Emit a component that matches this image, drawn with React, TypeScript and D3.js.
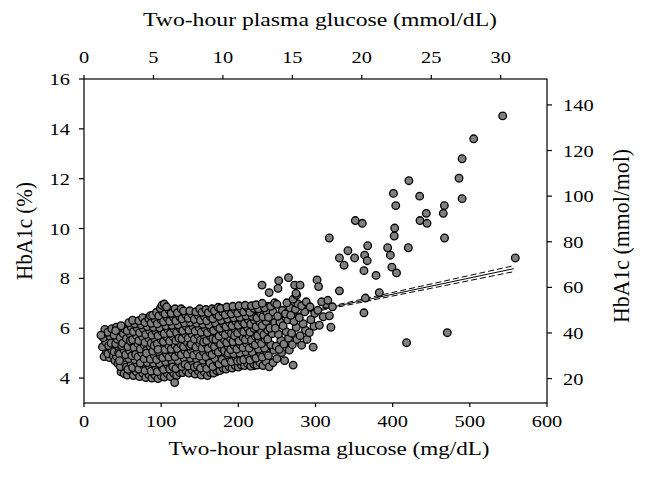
import React from "react";
import * as d3 from "d3";

// ---- axis ticks ----
const xTicks = [0, 100, 200, 300, 400, 500, 600];
const xTopTicks = [0, 5, 10, 15, 20, 25, 30];
const yTicks = [4, 6, 8, 10, 12, 14, 16];
const yRightTicks = [20, 40, 60, 80, 100, 120, 140];

// ---- dense core of the cluster: glucose (mg/dL) columns and HbA1c (%) values ----
const coreGlucose = [
  28, 34, 40, 46, 52, 58, 64, 70, 76, 82, 88, 94, 100, 106, 112, 118, 124, 130, 136, 142,
  148, 154, 160, 166, 172, 178, 184, 190, 196, 202, 208, 214, 220, 226, 232, 238,
];
const coreHbA1c = [
  "4.95 5.20 5.45 5.70 5.90",
  "4.88 5.10 5.35 5.60 5.85",
  "4.80 5.05 5.28 5.52 5.78 5.98",
  "4.60 4.85 5.10 5.34 5.58 5.82 6.02",
  "4.28 4.52 4.76 5.00 5.24 5.48 5.72 5.96",
  "4.20 4.44 4.68 4.92 5.16 5.40 5.64 5.88 6.12",
  "4.18 4.42 4.66 4.90 5.14 5.38 5.62 5.86 6.10 6.26",
  "4.12 4.36 4.60 4.84 5.08 5.32 5.56 5.80 6.04 6.28",
  "4.10 4.34 4.58 4.82 5.06 5.30 5.54 5.78 6.02 6.26",
  "4.08 4.32 4.56 4.80 5.04 5.28 5.52 5.76 6.00 6.24 6.40",
  "4.06 4.30 4.54 4.78 5.02 5.26 5.50 5.74 5.98 6.22 6.46",
  "4.04 4.28 4.52 4.76 5.00 5.24 5.48 5.72 5.96 6.20 6.44 6.60",
  "4.12 4.36 4.60 4.84 5.08 5.32 5.56 5.80 6.04 6.28 6.52 6.76",
  "4.12 4.36 4.60 4.84 5.08 5.32 5.56 5.80 6.04 6.28 6.52 6.76",
  "4.10 4.34 4.58 4.82 5.06 5.30 5.54 5.78 6.02 6.26 6.50 6.70",
  "4.14 4.38 4.62 4.86 5.10 5.34 5.58 5.82 6.06 6.30 6.54 6.70",
  "4.22 4.46 4.70 4.94 5.18 5.42 5.66 5.90 6.14 6.38 6.62",
  "4.26 4.50 4.74 4.98 5.22 5.46 5.70 5.94 6.18 6.42 6.62",
  "4.24 4.48 4.72 4.96 5.20 5.44 5.68 5.92 6.16 6.40 6.60",
  "4.22 4.46 4.70 4.94 5.18 5.42 5.66 5.90 6.14 6.38 6.62",
  "4.20 4.44 4.68 4.92 5.16 5.40 5.64 5.88 6.12 6.36 6.62",
  "4.16 4.40 4.64 4.88 5.12 5.36 5.60 5.84 6.08 6.32 6.60",
  "4.14 4.38 4.62 4.86 5.10 5.34 5.58 5.82 6.06 6.30 6.60",
  "4.24 4.48 4.72 4.96 5.20 5.44 5.68 5.92 6.16 6.40 6.66",
  "4.26 4.50 4.74 4.98 5.22 5.46 5.70 5.94 6.18 6.42 6.68",
  "4.34 4.58 4.82 5.06 5.30 5.54 5.78 6.02 6.26 6.50 6.70",
  "4.40 4.64 4.88 5.12 5.36 5.60 5.84 6.08 6.32 6.56 6.74",
  "4.44 4.68 4.92 5.16 5.40 5.64 5.88 6.12 6.36 6.60 6.78",
  "4.46 4.70 4.94 5.18 5.42 5.66 5.90 6.14 6.38 6.62 6.80",
  "4.50 4.74 4.98 5.22 5.46 5.70 5.94 6.18 6.42 6.66 6.82",
  "4.54 4.78 5.02 5.26 5.50 5.74 5.98 6.22 6.46 6.70 6.84",
  "4.52 4.76 5.00 5.24 5.48 5.72 5.96 6.20 6.44 6.68 6.84",
  "4.50 4.74 4.98 5.22 5.46 5.70 5.94 6.18 6.42 6.66 6.84",
  "4.56 4.80 5.04 5.28 5.52 5.76 6.00 6.24 6.48 6.72 6.88",
  "4.56 4.80 5.04 5.28 5.52 5.76 6.00 6.24 6.48 6.72 6.92",
  "4.54 4.80 5.06 5.32 5.58 5.84 6.10 6.36 6.62 6.88",
];

// ---- cluster: "glucose(mg/dL) HbA1c(%)" pairs, grouped by glucose band ----
const clusterPoints = [
  "26 4.86, 29 5.05, 24 5.25, 28 5.45, 25 5.62, 29 5.80, 27 5.95",
  "33 4.82, 31 4.98, 36 5.12, 32 5.30, 37 5.50, 34 5.66, 31 5.84, 36 5.98, 35 5.40, 38 4.90",
  "40 4.70, 44 4.58, 42 4.88, 39 5.06, 45 5.22, 41 5.38, 43 5.56, 39 5.72, 46 5.88, 42 6.04, 45 5.02, 41 5.90",
  "48 4.25, 52 4.18, 47 4.46, 53 4.62, 50 4.80, 46 4.96, 52 5.12, 49 5.30, 54 5.46, 47 5.62, 51 5.78, 53 5.96, 48 6.10, 50 5.40, 46 4.70",
  "56 4.12, 60 4.28, 55 4.44, 61 4.60, 58 4.78, 54 4.94, 59 5.10, 57 5.26, 62 5.42, 55 5.58, 60 5.74, 56 5.90, 61 6.06, 58 6.22, 57 4.35, 60 5.50",
  "64 4.10, 68 4.25, 63 4.42, 69 4.58, 66 4.74, 62 4.90, 67 5.06, 65 5.22, 70 5.38, 63 5.54, 68 5.70, 64 5.86, 69 6.02, 66 6.18, 63 6.32, 67 4.95",
  "72 4.06, 76 4.20, 71 4.36, 77 4.52, 74 4.68, 70 4.85, 75 5.01, 73 5.17, 78 5.33, 71 5.50, 76 5.66, 72 5.82, 77 5.98, 74 6.14, 71 6.30, 76 6.42, 73 4.60",
  "80 4.02, 84 4.14, 79 4.30, 85 4.46, 82 4.62, 78 4.78, 83 4.95, 81 5.11, 86 5.27, 79 5.43, 84 5.59, 80 5.75, 85 5.91, 82 6.07, 79 6.23, 84 6.38, 86 6.50, 81 5.00",
  "88 4.00, 92 4.12, 87 4.28, 93 4.44, 90 4.60, 86 4.76, 91 4.92, 89 5.08, 94 5.24, 87 5.40, 92 5.56, 88 5.72, 93 5.88, 90 6.04, 87 6.20, 92 6.36, 89 6.52, 94 6.64, 91 5.30",
  "96 3.98, 100 4.10, 95 4.26, 101 4.42, 98 4.58, 94 4.74, 99 4.90, 97 5.06, 102 5.22, 95 5.38, 100 5.54, 96 5.70, 101 5.86, 98 6.02, 95 6.18, 100 6.34, 97 6.50, 102 6.66, 99 6.80, 101 6.92, 96 5.15",
  "104 4.04, 108 4.18, 103 4.34, 109 4.50, 106 4.66, 102 4.82, 107 4.98, 105 5.14, 110 5.30, 103 5.46, 108 5.62, 104 5.78, 109 5.94, 106 6.10, 103 6.26, 108 6.42, 105 6.58, 110 6.74, 104 6.97, 107 6.86",
  "112 4.06, 116 4.20, 111 4.36, 117 4.52, 114 4.68, 110 4.84, 115 5.00, 113 5.16, 118 5.32, 111 5.48, 116 5.64, 112 5.80, 117 5.96, 114 6.12, 111 6.28, 116 6.44, 113 6.60, 118 6.78, 115 4.45",
  "120 4.10, 124 4.22, 119 4.38, 125 4.54, 122 4.70, 118 4.86, 123 5.02, 121 5.18, 126 5.34, 119 5.50, 124 5.66, 120 5.82, 125 5.98, 122 6.14, 119 6.30, 124 6.46, 121 6.62, 126 6.78, 123 5.60",
  "128 4.22, 132 4.30, 127 4.46, 133 4.62, 130 4.78, 126 4.94, 131 5.10, 129 5.26, 134 5.42, 127 5.58, 132 5.74, 128 5.90, 133 6.06, 130 6.22, 127 6.38, 132 6.54, 129 6.70, 131 4.55",
  "136 4.20, 140 4.32, 135 4.48, 141 4.64, 138 4.80, 134 4.96, 139 5.12, 137 5.28, 142 5.44, 135 5.60, 140 5.76, 136 5.92, 141 6.08, 138 6.24, 135 6.40, 140 6.56, 137 6.70, 139 5.35",
  "144 4.16, 148 4.28, 143 4.44, 149 4.60, 146 4.76, 142 4.92, 147 5.08, 145 5.24, 150 5.40, 143 5.56, 148 5.72, 144 5.88, 149 6.04, 146 6.20, 143 6.36, 148 6.52, 145 6.66, 150 6.78, 147 4.50",
  "152 4.12, 156 4.24, 151 4.40, 157 4.56, 154 4.72, 150 4.88, 155 5.04, 153 5.20, 158 5.36, 151 5.52, 156 5.68, 152 5.84, 157 6.00, 154 6.16, 151 6.32, 156 6.48, 153 6.64, 158 6.75, 155 5.45",
  "160 4.10, 164 4.22, 159 4.38, 165 4.54, 162 4.70, 158 4.86, 163 5.02, 161 5.18, 166 5.34, 159 5.50, 164 5.66, 160 5.82, 165 5.98, 162 6.14, 159 6.30, 164 6.46, 161 6.62, 166 6.78, 163 4.60",
  "168 4.20, 172 4.30, 167 4.46, 173 4.62, 170 4.78, 166 4.94, 171 5.10, 169 5.26, 174 5.42, 167 5.58, 172 5.74, 168 5.90, 173 6.06, 170 6.22, 167 6.38, 172 6.54, 169 6.70, 174 6.84, 171 5.55",
  "176 4.30, 180 4.40, 175 4.56, 181 4.72, 178 4.88, 174 5.04, 179 5.20, 177 5.36, 182 5.52, 175 5.68, 180 5.84, 176 6.00, 181 6.16, 178 6.32, 175 6.48, 180 6.64, 177 6.80, 179 4.75",
  "184 4.36, 188 4.46, 183 4.62, 189 4.78, 186 4.94, 182 5.10, 187 5.26, 185 5.42, 190 5.58, 183 5.74, 188 5.90, 184 6.06, 189 6.22, 186 6.38, 183 6.54, 188 6.70, 185 6.85, 187 5.00",
  "192 4.40, 196 4.50, 191 4.66, 197 4.82, 194 4.98, 190 5.14, 195 5.30, 193 5.46, 198 5.62, 191 5.78, 196 5.94, 192 6.10, 197 6.26, 194 6.42, 191 6.58, 196 6.74, 193 6.88, 195 5.70",
  "200 4.44, 204 4.52, 199 4.68, 205 4.84, 202 5.00, 198 5.16, 203 5.32, 201 5.48, 206 5.64, 199 5.80, 204 5.96, 200 6.12, 205 6.28, 202 6.44, 199 6.60, 204 6.76, 201 6.90, 203 4.70",
  "208 4.50, 212 4.58, 207 4.74, 213 4.90, 210 5.06, 206 5.22, 211 5.38, 209 5.54, 214 5.70, 207 5.86, 212 6.02, 208 6.18, 213 6.34, 210 6.50, 207 6.66, 212 6.82, 209 6.92",
  "216 4.48, 220 4.56, 215 4.72, 221 4.88, 218 5.04, 214 5.20, 219 5.36, 217 5.52, 222 5.68, 215 5.84, 220 6.00, 216 6.16, 221 6.32, 218 6.48, 215 6.64, 220 6.80, 217 6.90",
  "224 4.52, 228 4.62, 223 4.80, 229 4.98, 226 5.16, 222 5.34, 227 5.52, 225 5.70, 230 5.88, 223 6.06, 228 6.24, 224 6.42, 229 6.60, 226 6.78, 223 6.94",
  "232 4.50, 236 4.66, 231 4.84, 237 5.02, 234 5.20, 230 5.38, 235 5.56, 233 5.74, 238 5.92, 231 6.10, 236 6.28, 232 6.46, 237 6.64, 234 6.82, 231 7.00",
  "240 4.45, 245 4.62, 239 4.90, 246 5.12, 242 5.34, 238 5.56, 244 5.78, 241 6.00, 247 6.22, 239 6.44, 245 6.66, 242 6.88, 247 7.02",
  "250 4.78, 256 5.02, 249 5.28, 255 5.52, 252 5.76, 248 6.00, 254 6.24, 251 6.48, 257 6.72, 250 6.96, 253 5.15",
  "260 4.70, 266 5.12, 259 5.36, 265 5.60, 262 5.86, 258 6.10, 264 6.34, 261 6.58, 267 6.82, 263 7.02",
  "271 4.52, 270 5.34, 276 5.55, 269 5.80, 275 6.04, 272 6.28, 268 6.52, 274 6.76, 277 6.98, 271 7.16",
  "282 5.32, 280 5.70, 287 5.92, 284 6.18, 279 6.42, 286 6.66, 282 6.90, 288 7.06, 289 5.55",
  "297 5.24, 292 5.82, 298 6.08, 294 6.34, 299 6.60, 293 6.86",
  "305 6.12, 310 6.46, 303 6.72, 314 6.96, 320 6.04, 318 6.50, 322 6.86, 308 7.06, 316 7.12",
];

// ---- sparse points (glucose mg/dL, HbA1c %) ----
const sparseGlucose = [
  22, 117.5, 230.7, 240, 252.3, 251.4, 265, 273, 280, 275.6, 302, 304, 274.7, 331,
  331, 342, 337, 350.7, 363.7, 367, 397, 399, 405, 362.8, 378.4, 382.7, 364.6, 362.8,
  418, 470.8, 558.9, 317.9, 367.6, 393.5, 420.3, 467.2, 402, 402.6, 351.6, 360.7, 435.4,
  444.5, 443.6, 465.6, 404, 467, 401, 435, 421, 490, 486, 490, 505, 542.6,
];
const sparseHbA1c = [
  5.72, 3.82, 7.73, 7.43, 7.91, 7.6, 8.03, 7.73, 7.73, 7.33, 7.94, 7.67, 7.4, 7.5,
  8.82, 9.11, 8.53, 8.82, 8.93, 8.71, 8.93, 8.45, 8.22, 8.31, 8.12, 7.43, 7.21, 6.62,
  5.42, 5.82, 8.82, 9.62, 9.31, 9.23, 9.23, 9.62, 9.7, 10.02, 10.32, 10.21, 10.32,
  10.21, 10.61, 10.61, 10.92, 10.92, 11.41, 11.3, 11.92, 11.2, 12.02, 12.8, 13.6, 14.52,
];

// ---- regression line and 95% CI ----
const regGlucose = [22, 130, 300, 557];
const regFit = [4.89, 5.6, 6.71, 8.39];
const regUpper = [4.94, 5.62, 6.75, 8.51];
const regLower = [4.84, 5.58, 6.67, 8.27];

const W = 646;
const H = 482;
const FONT = "'Liberation Serif', 'Times New Roman', serif";
const SX = 1.2;

const STxt = ({ x, y, anchor = "middle", size = 17, children }: any) => (
  <text
    transform={`translate(${x},${y}) scale(${SX},1)`}
    textAnchor={anchor}
    fontSize={size}
    fontFamily={FONT}
    fill="#000"
  >
    {children}
  </text>
);

export default function App() {
  const x = d3.scaleLinear().domain([0, 600]).range([84, 547]);
  const xTop = d3.scaleLinear().domain([0, 600 / 18]).range([84, 547]);
  const y = d3.scaleLinear().domain([3, 16]).range([403, 79]);
  const toMmol = (p: number) => (p - 2.15) * 10.929;
  const yR = d3.scaleLinear().domain([toMmol(3), toMmol(16)]).range([403, 79]);

  const pts: [number, number][] = [];
  coreGlucose.forEach((g, i) => {
    coreHbA1c[i].split(" ").forEach((v) => pts.push([g, +v]));
  });
  clusterPoints.forEach((grp) => {
    grp.split(",").forEach((pair) => {
      const [g, h] = pair.trim().split(" ").map(Number);
      pts.push([g, h]);
    });
  });
  sparseGlucose.forEach((g, i) => pts.push([g, sparseHbA1c[i]]));

  const line = d3
    .line<number>()
    .x((_, i) => x(regGlucose[i]))
    .y((d) => y(d));

  const [x0, x1] = x.range();
  const [y0, y1] = y.range();

  return (
    <svg width={W} height={H} style={{ position: "absolute", left: 0, top: 0 }}>
      <rect width={W} height={H} fill="#fff" />
      {/* regression (under the points) */}
      <path d={line(regFit) || ""} fill="none" stroke="#000" strokeWidth={1} />
      <path d={line(regUpper) || ""} fill="none" stroke="#000" strokeWidth={1} strokeDasharray="6 3" />
      <path d={line(regLower) || ""} fill="none" stroke="#000" strokeWidth={1} strokeDasharray="6 3" />
      {/* points */}
      <g>
        {pts.map((p, i) => (
          <circle
            key={i}
            cx={x(p[0])}
            cy={y(p[1])}
            r={3.8}
            fill="#808080"
            stroke="#000"
            strokeWidth={1.3}
          />
        ))}
      </g>

      {/* frame */}
      <rect x={x0} y={y1} width={x1 - x0} height={y0 - y1} fill="none" stroke="#000" strokeWidth={1.2} />

      {/* bottom axis */}
      {xTicks.map((t) => (
        <g key={"b" + t}>
          <line x1={x(t)} x2={x(t)} y1={y0} y2={y0 + 4} stroke="#000" strokeWidth={1.2} />
          <STxt x={x(t)} y={427}>{t}</STxt>
        </g>
      ))}
      {/* top axis */}
      {xTopTicks.map((t) => (
        <g key={"t" + t}>
          <line x1={xTop(t)} x2={xTop(t)} y1={y1} y2={y1 - 4} stroke="#000" strokeWidth={1.2} />
          <STxt x={xTop(t)} y={63}>{t}</STxt>
        </g>
      ))}
      {/* left axis */}
      {yTicks.map((t) => (
        <g key={"l" + t}>
          <line x1={x0} x2={x0 - 5} y1={y(t)} y2={y(t)} stroke="#000" strokeWidth={1.2} />
          <STxt x={70} y={y(t) + 6} anchor="end">{t}</STxt>
        </g>
      ))}
      {/* right axis */}
      {yRightTicks.map((t) => (
        <g key={"r" + t}>
          <line x1={x1} x2={x1 + 5} y1={yR(t)} y2={yR(t)} stroke="#000" strokeWidth={1.2} />
          <STxt x={563} y={yR(t) + 6} anchor="start">{t}</STxt>
        </g>
      ))}

      {/* titles */}
      <text x={320} y={26} textAnchor="middle" fontSize={19} fontFamily={FONT} textLength={354} lengthAdjust="spacingAndGlyphs">
        Two-hour plasma glucose (mmol/dL)
      </text>
      <text x={329} y={455} textAnchor="middle" fontSize={19} fontFamily={FONT} textLength={321} lengthAdjust="spacingAndGlyphs">
        Two-hour plasma glucose (mg/dL)
      </text>
      <g transform={`translate(32,231) scale(${SX},1) rotate(-90)`}>
        <text x={0} y={0} textAnchor="middle" fontSize={19} fontFamily={FONT} textLength={98} lengthAdjust="spacingAndGlyphs">
          HbA1c (%)
        </text>
      </g>
      <g transform={`translate(629,236) scale(${SX},1) rotate(-90)`}>
        <text x={0} y={0} textAnchor="middle" fontSize={19} fontFamily={FONT} textLength={174} lengthAdjust="spacingAndGlyphs">
          HbA1c (mmol/mol)
        </text>
      </g>
    </svg>
  );
}
